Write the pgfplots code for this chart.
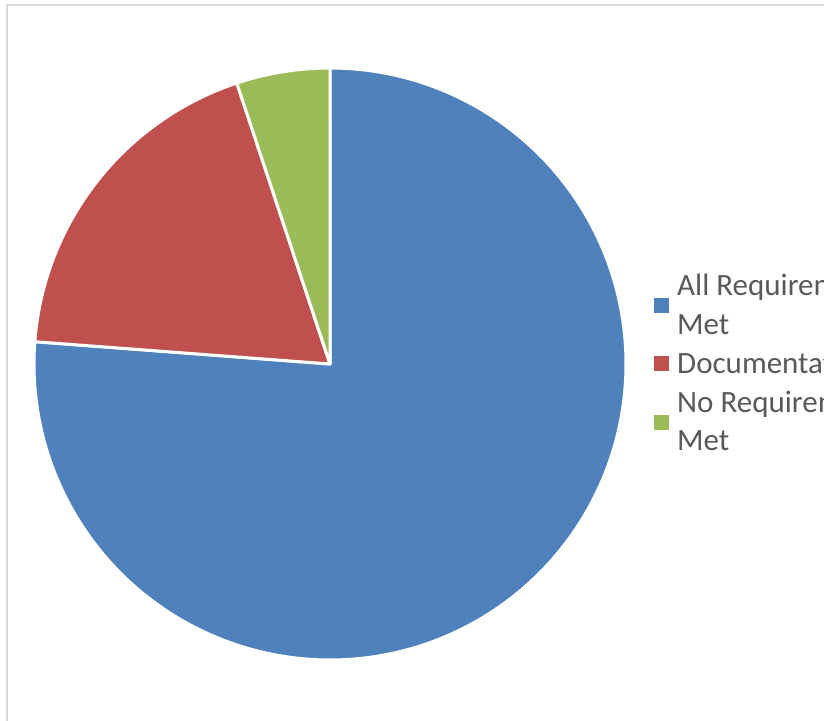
\documentclass[border=0pt]{standalone}
\usepackage{fontspec}
\setmainfont{Carlito}
\usepackage{pgfplots}
\usepackage{pgfplotstable}
\pgfplotsset{compat=1.18}
\definecolor{sblue}{HTML}{4F81BD}
\definecolor{sred}{HTML}{C0504D}
\definecolor{sgreen}{HTML}{9BBB59}
\definecolor{legtext}{HTML}{595959}
\definecolor{framegray}{HTML}{D9D9D9}

\pgfplotstableread{
share
76.2
18.7
5.1
}\piedata
\pgfplotstablegetelem{0}{share}\of\piedata \let\vA\pgfplotsretval
\pgfplotstablegetelem{1}{share}\of\piedata \let\vB\pgfplotsretval
\pgfplotstablegetelem{2}{share}\of\piedata \let\vC\pgfplotsretval
\pgfmathsetmacro\aA{90}
\pgfmathsetmacro\aB{\aA-3.6*\vA}
\pgfmathsetmacro\aC{\aB-3.6*\vB}
\pgfmathsetmacro\aD{\aC-3.6*\vC}

\begin{document}
\begin{tikzpicture}
\useasboundingbox (0,0) rectangle (824pt,720pt);
\clip (0,0) rectangle (824pt,720pt);
\begin{axis}[
  at={(0,0)}, anchor=south west,
  scale only axis, width=824pt, height=720pt,
  xmin=0, xmax=824, ymin=0, ymax=720,
  hide axis, clip=false,
]
\addplot[draw=framegray, line width=1.5pt] coordinates {(7,-20) (7,715) (850,715)};
\addplot[fill=sblue, draw=white, line width=3pt, line join=round, domain=\aB:\aA, samples=200, variable=\t]
  ({330+296*cos(\t)},{356+296*sin(\t)}) -- (axis cs:330,356) -- cycle;
\addplot[fill=sred, draw=white, line width=3pt, line join=round, domain=\aC:\aB, samples=60, variable=\t]
  ({330+296*cos(\t)},{356+296*sin(\t)}) -- (axis cs:330,356) -- cycle;
\addplot[fill=sgreen, draw=white, line width=3pt, line join=round, domain=\aD:\aC, samples=30, variable=\t]
  ({330+296*cos(\t)},{356+296*sin(\t)}) -- (axis cs:330,356) -- cycle;
% legend
\fill[sblue]  (axis cs:654,407) rectangle (axis cs:669,422);
\fill[sred]   (axis cs:654,349) rectangle (axis cs:669,364);
\fill[sgreen] (axis cs:654,290) rectangle (axis cs:669,305);
\begin{scope}[every node/.style={anchor=base west, inner sep=0pt, text=legtext, font=\fontsize{31}{38}\selectfont}]
\node at (axis cs:677,424) {All Requirements};
\node at (axis cs:677,385) {Met};
\node at (axis cs:677,346) {Documentation};
\node at (axis cs:677,307) {No Requirements};
\node at (axis cs:677,269) {Met};
\end{scope}
\end{axis}
\end{tikzpicture}
\end{document}
